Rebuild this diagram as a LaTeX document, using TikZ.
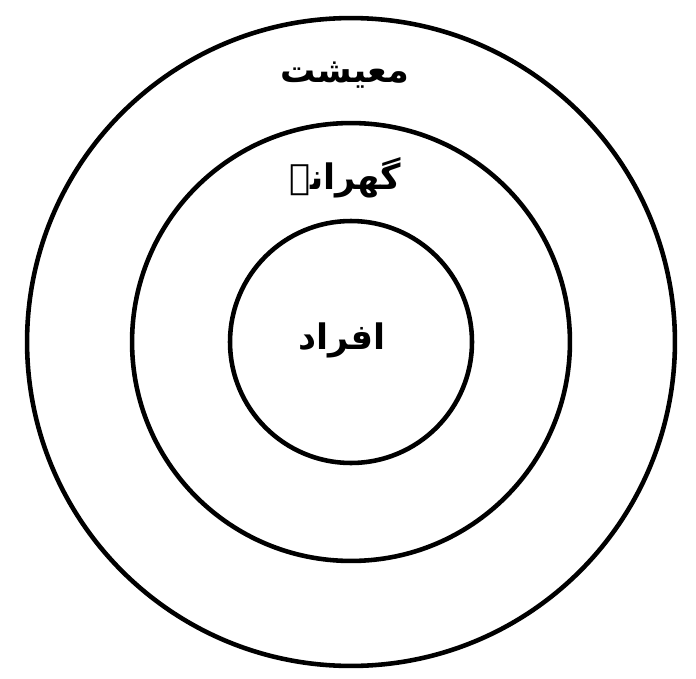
\documentclass[tikz,border=0pt]{standalone}
\usepackage{fontspec}
\newfontfamily\urdufont[Script=Arabic]{DejaVu Sans}
\TeXXeTstate=1
\usepackage{tikz}
\usetikzlibrary{positioning}

\begin{document}
\begin{tikzpicture}[x=0.02cm, y=-0.02cm,
    ring/.style={draw, circle, line width=2.6pt, inner sep=0pt},
    urdutext/.style={font=\urdufont\bfseries\fontsize{20}{24}\selectfont, inner sep=1pt}]
  \useasboundingbox (0,0) rectangle (696,679);
  \node[ring, minimum size=12.96cm] (maeeshat) at (351,342) {};
  \node[ring, minimum size=8.76cm] (gharane) at (351,342) {};
  \node[ring, minimum size=4.84cm] (afrad) at (351,342) {};
  \node[urdutext] (maeeshatlbl) at (345,75) {\beginR معیشت\endR};
  \node[urdutext] (gharanelbl) at (345,178) {\beginR گھرانے\endR};
  \node[urdutext] (afradlbl) at (342,340) {\beginR افراد\endR};
\end{tikzpicture}
\end{document}
